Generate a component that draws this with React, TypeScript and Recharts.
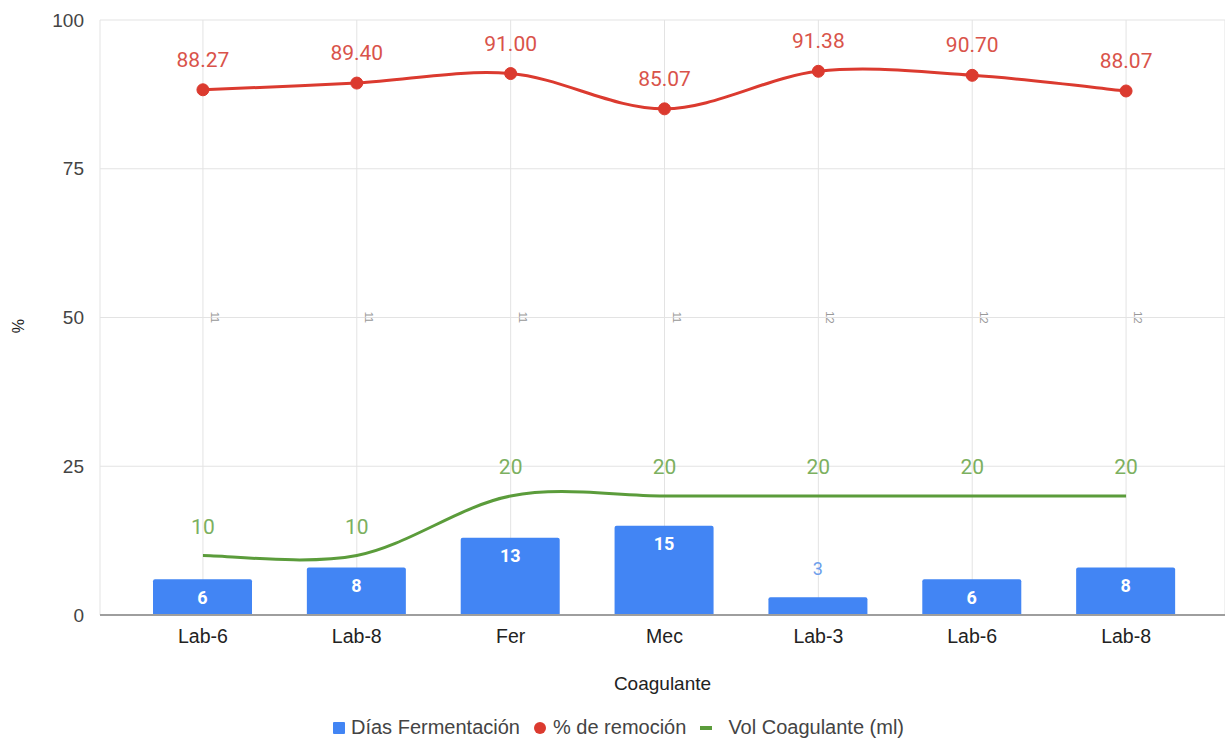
import { ComposedChart, Bar, Line, XAxis, YAxis, CartesianGrid, Legend, LabelList } from 'recharts';

const categorias = ['Lab-6', 'Lab-8', 'Fer', 'Mec', 'Lab-3', 'Lab-6', 'Lab-8'];
const diasFermentacion = [6, 8, 13, 15, 3, 6, 8];
const remocion = [88.27, 89.4, 91.0, 85.07, 91.38, 90.7, 88.07];
const volCoagulante = [10, 10, 20, 20, 20, 20, 20];
const temperatura = [11, 11, 11, 11, 12, 12, 12];
const yTicks = [0, 25, 50, 75, 100];
const ordenLeyenda = ['Días Fermentación', '% de remoción', 'Vol Coagulante (ml)'];

const data = categorias.map((c, i) => ({
  name: c,
  dias: diasFermentacion[i],
  remocion: remocion[i],
  vol: volCoagulante[i],
  temp: temperatura[i],
}));

const AXIS_FONT = '"Liberation Sans", Arial, sans-serif';
const LABEL_FONT = 'Roboto, "Liberation Sans", sans-serif';

const BLUE = '#4285f4';
const RED = '#db3a2f';
const GREEN = '#5b9c3b';

// catmull-rom style smoothing, like the spreadsheet's smooth lines
const smoothCurve = (context: any) => {
  let pts: [number, number][] = [];
  return {
    areaStart() {},
    areaEnd() {},
    lineStart() {
      pts = [];
    },
    lineEnd() {
      if (!pts.length) return;
      context.moveTo(pts[0][0], pts[0][1]);
      for (let i = 0; i < pts.length - 1; i++) {
        const p0 = pts[i - 1] || pts[i];
        const p1 = pts[i];
        const p2 = pts[i + 1];
        const p3 = pts[i + 2] || p2;
        context.bezierCurveTo(
          p1[0] + (p2[0] - p0[0]) / 6,
          p1[1] + (p2[1] - p0[1]) / 6,
          p2[0] - (p3[0] - p1[0]) / 6,
          p2[1] - (p3[1] - p1[1]) / 6,
          p2[0],
          p2[1]
        );
      }
    },
    point(x: number, y: number) {
      pts.push([x, y]);
    },
  };
};

const BarLabel = (props: any) => {
  const { x, y, width, height, value } = props;
  const cx = x + width / 2;
  if (height < 30) {
    return (
      <text x={cx} y={y - 29} textAnchor="middle" dominantBaseline="central" fill="#6d9eeb" fontSize={18} fontFamily={LABEL_FONT}>
        {value}
      </text>
    );
  }
  return (
    <text x={cx} y={y + 18} textAnchor="middle" dominantBaseline="central" fill="#ffffff" fontSize={18} fontWeight={700} fontFamily={LABEL_FONT}>
      {value}
    </text>
  );
};

const PointLabel = (color: string, decimals: number, dy: number) => (props: any) => {
  const { x, y, value } = props;
  return (
    <text x={x} y={y - dy} textAnchor="middle" dominantBaseline="central" fill={color} fontSize={21} fontFamily={LABEL_FONT}>
      {decimals ? Number(value).toFixed(decimals) : value}
    </text>
  );
};

const TempLabel = (props: any) => {
  const { x, y, value } = props;
  return (
    <text
      x={x + 12}
      y={y}
      transform={`rotate(90 ${x + 12} ${y})`}
      textAnchor="middle"
      dominantBaseline="central"
      fill="#999"
      fontSize={11}
      fontFamily={AXIS_FONT}
    >
      {value}
    </text>
  );
};

const YTitle = () => (
  <text x={18} y={326} transform="rotate(-90 18 326)" textAnchor="middle" dominantBaseline="central" fill="#222" fontSize={16} fontFamily={AXIS_FONT}>
    %
  </text>
);

const LegendContent = (props: any) => {
  const items = (props.payload || [])
    .filter((p: any) => p.type !== 'none')
    .sort((a: any, b: any) => ordenLeyenda.indexOf(a.value) - ordenLeyenda.indexOf(b.value));
  return (
    <div style={{ display: 'flex', alignItems: 'center', fontFamily: AXIS_FONT, fontSize: 20, color: '#444' }}>
      {items.map((p: any) => (
        <div key={p.value} style={{ display: 'flex', alignItems: 'center', marginRight: 14 }}>
          {p.type === 'square' && <span style={{ width: 12, height: 12, background: p.color, borderRadius: 1, marginRight: 6 }} />}
          {p.type === 'circle' && <span style={{ width: 12, height: 12, background: p.color, borderRadius: 6, marginRight: 7 }} />}
          {p.type === 'line' && <span style={{ width: 12, height: 4, background: p.color, marginRight: 16 }} />}
          <span>{p.value}</span>
        </div>
      ))}
    </div>
  );
};

export default function App() {
  return (
    <div style={{ position: 'absolute', left: 0, top: 0, width: 1225, height: 740, background: '#fff' }}>
      <ComposedChart width={1225} height={740} data={data} margin={{ top: 20, right: 0, bottom: 0, left: 0 }}>
        <CartesianGrid stroke="#e3e3e3" strokeWidth={1} vertical={true} />
        <XAxis
          dataKey="name"
          height={125}
          padding={{ left: 26, right: 22 }}
          tickLine={false}
          tickSize={0}
          tickMargin={14}
          axisLine={{ stroke: '#9e9e9e', strokeWidth: 2 }}
          tick={{ fill: '#222', fontSize: 19.5, fontFamily: AXIS_FONT }}
          label={{ value: 'Coagulante', position: 'insideTop', offset: 62, fill: '#222', fontSize: 19, fontFamily: AXIS_FONT }}
        />
        <YAxis
          width={100}
          domain={[0, 100]}
          ticks={yTicks}
          tickLine={false}
          axisLine={false}
          tickMargin={10}
          tick={{ fill: '#444', fontSize: 19, fontFamily: AXIS_FONT }}
          label={<YTitle />}
        />
        <Legend
          layout="horizontal"
          verticalAlign="middle"
          align="center"
          wrapperStyle={{ top: 716, left: 333, width: 850, bottom: 'auto' }}
          content={LegendContent}
        />
        <Bar dataKey="dias" name="Días Fermentación" fill={BLUE} barSize={99} radius={[2, 2, 0, 0]} legendType="square" isAnimationActive={false}>
          <LabelList dataKey="dias" content={BarLabel} />
        </Bar>
        <Line
          dataKey="remocion"
          name="% de remoción"
          type={smoothCurve as any}
          stroke={RED}
          strokeWidth={3}
          dot={{ r: 6, fill: RED, stroke: RED, strokeWidth: 1 }}
          activeDot={false}
          legendType="circle"
          isAnimationActive={false}
        >
          <LabelList dataKey="remocion" content={PointLabel('#d9534a', 2, 30)} />
        </Line>
        <Line
          dataKey="vol"
          name="Vol Coagulante (ml)"
          type={smoothCurve as any}
          stroke={GREEN}
          strokeWidth={3}
          dot={false}
          activeDot={false}
          legendType="line"
          isAnimationActive={false}
        >
          <LabelList dataKey="vol" content={PointLabel('#7cb060', 0, 29)} />
        </Line>
        <Line
          dataKey={() => 50}
          name="temp"
          stroke="none"
          dot={false}
          activeDot={false}
          legendType="none"
          isAnimationActive={false}
        >
          <LabelList dataKey="temp" content={TempLabel} />
        </Line>
      </ComposedChart>
    </div>
  );
}
